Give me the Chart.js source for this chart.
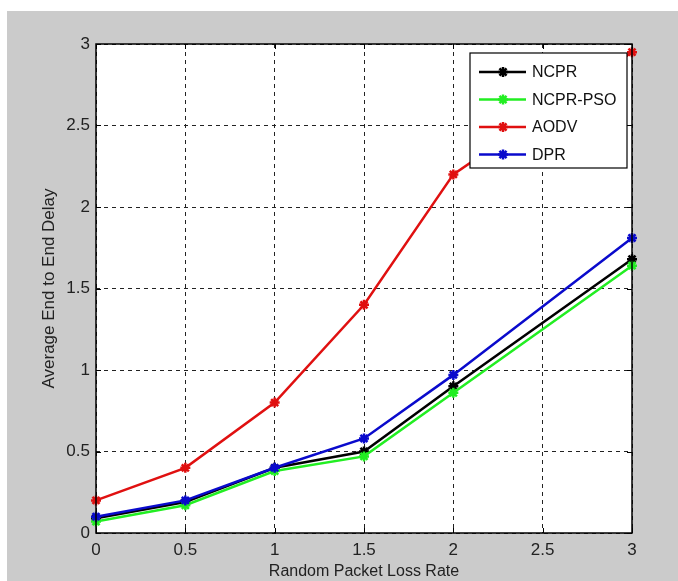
<!DOCTYPE html>
<html>
<head>
<meta charset="utf-8">
<script src="https://cdn.jsdelivr.net/npm/chart.js@4/dist/chart.umd.min.js"></script>
<style>
  html, body { margin: 0; padding: 0; background: #fff; }
  #wrap { width: 678px; height: 581px; }
</style>
</head>
<body>
<div id="wrap"><canvas id="chart" width="678" height="581"></canvas></div>
<script>
// data
const lossRates = [0, 0.5, 1, 1.5, 2, 3];
const ncpr = [0.09, 0.19, 0.40, 0.50, 0.90, 1.68];
const ncprPso = [0.07, 0.17, 0.38, 0.47, 0.86, 1.64];
const aodv = [0.20, 0.40, 0.80, 1.40, 2.20, 2.95];
const dpr = [0.10, 0.20, 0.40, 0.58, 0.97, 1.81];
const seriesNames = ['NCPR', 'NCPR-PSO', 'AODV', 'DPR'];
const seriesColors = ['#000000', '#22ee22', '#e01010', '#0a0acc'];

const font = '"Liberation Sans", Arial, sans-serif';

function pts(vals) {
    return vals.map((v, i) => ({ x: lossRates[i], y: v }));
}

function makeSet(i, vals, order) {
    return {
        label: seriesNames[i],
        data: pts(vals),
        borderColor: seriesColors[i],
        backgroundColor: seriesColors[i],
        borderWidth: 2.5,
        pointStyle: 'star',
        pointRadius: 5,
        pointBorderWidth: 2.5,
        tension: 0,
        clip: false,
        order: order
    };
}

function starMark(c, x, y, r) {
    c.beginPath();
    for (let k = 0; k < 4; k++) {
        const ang = k * Math.PI / 4;
        c.moveTo(x + Math.cos(ang) * r, y + Math.sin(ang) * r);
        c.lineTo(x - Math.cos(ang) * r, y - Math.sin(ang) * r);
    }
    c.stroke();
}

// gray figure background
const figureBg = {
    id: 'figureBg',
    beforeDraw(chart) {
        const c = chart.ctx;
        c.save();
        c.fillStyle = '#ffffff';
        c.fillRect(0, 0, chart.width, chart.height);
        c.fillStyle = '#cbcbcb';
        c.fillRect(7, 11, chart.width - 7, chart.height - 11);
        const a = chart.chartArea;
        c.fillStyle = '#ffffff';
        c.fillRect(a.left, a.top, a.right - a.left, a.bottom - a.top);
        c.restore();
    }
};

// axes box, inner ticks and the boxed legend
const frameAndLegend = {
    id: 'frameAndLegend',
    afterDatasetsDraw(chart) {
        const c = chart.ctx;
        const a = chart.chartArea;
        const xs = chart.scales.x, ys = chart.scales.y;
        c.save();
        c.strokeStyle = '#000';
        c.lineWidth = 1.5;
        c.setLineDash([]);
        c.strokeRect(a.left, a.top, a.right - a.left, a.bottom - a.top);
        c.lineWidth = 1;
        c.beginPath();
        xs.ticks.forEach(t => {
            const px = Math.round(xs.getPixelForValue(t.value)) + 0.5;
            c.moveTo(px, a.bottom); c.lineTo(px, a.bottom - 5);
            c.moveTo(px, a.top); c.lineTo(px, a.top + 5);
        });
        ys.ticks.forEach(t => {
            const py = Math.round(ys.getPixelForValue(t.value)) + 0.5;
            c.moveTo(a.left, py); c.lineTo(a.left + 5, py);
            c.moveTo(a.right, py); c.lineTo(a.right - 5, py);
        });
        c.stroke();

        // legend box
        const lx = 470, ly = 53, lw = 157, lh = 115;
        c.fillStyle = '#fff';
        c.fillRect(lx, ly, lw, lh);
        c.strokeStyle = '#000';
        c.lineWidth = 1.2;
        c.strokeRect(lx, ly, lw, lh);
        c.font = '16px ' + font;
        c.textBaseline = 'middle';
        chart.data.datasets.forEach((ds, i) => {
            const y = ly + 19 + i * 27.5;
            c.strokeStyle = ds.borderColor;
            c.lineWidth = 2.5;
            c.beginPath();
            c.moveTo(lx + 9, y); c.lineTo(lx + 56, y);
            c.stroke();
            starMark(c, lx + 33, y, 5);
            c.fillStyle = '#111';
            c.fillText(ds.label, lx + 62, y + 1);
        });
        c.restore();
    }
};

const tickText = v => String(+v.toFixed(2));

new Chart(document.getElementById('chart'), {
    type: 'line',
    data: {
        datasets: [
            makeSet(0, ncpr, 4),
            makeSet(1, ncprPso, 3),
            makeSet(2, aodv, 2),
            makeSet(3, dpr, 1)
        ]
    },
    plugins: [figureBg, frameAndLegend],
    options: {
        responsive: false,
        animation: false,
        layout: { padding: { left: 0, top: 44, right: 46, bottom: 0 } },
        plugins: {
            legend: { display: false },
            tooltip: { enabled: false }
        },
        scales: {
            x: {
                type: 'linear',
                min: 0, max: 3,
                ticks: {
                    stepSize: 0.5,
                    color: '#222',
                    padding: 7,
                    font: { family: font, size: 17 },
                    maxRotation: 0,
                    callback: tickText
                },
                grid: {
                    color: '#222',
                    lineWidth: 1,
                    drawTicks: false
                },
                border: { display: false, dash: [4, 4] },
                title: {
                    display: true,
                    text: 'Random Packet Loss Rate',
                    color: '#222',
                    font: { family: font, size: 16 },
                    padding: { top: 0, bottom: 0 }
                },
                afterFit(scale) { scale.height = 48; }
            },
            y: {
                min: 0, max: 3,
                ticks: {
                    stepSize: 0.5,
                    color: '#222',
                    padding: 6,
                    font: { family: font, size: 17 },
                    callback: tickText
                },
                grid: {
                    color: '#222',
                    lineWidth: 1,
                    drawTicks: false
                },
                border: { display: false, dash: [4, 4] },
                title: {
                    display: true,
                    text: 'Average End to End Delay',
                    color: '#222',
                    font: { family: font, size: 17 },
                    padding: { top: 39, bottom: 0 }
                },
                afterFit(scale) { scale.width = 96; }
            }
        }
    }
});
</script>
</body>
</html>
